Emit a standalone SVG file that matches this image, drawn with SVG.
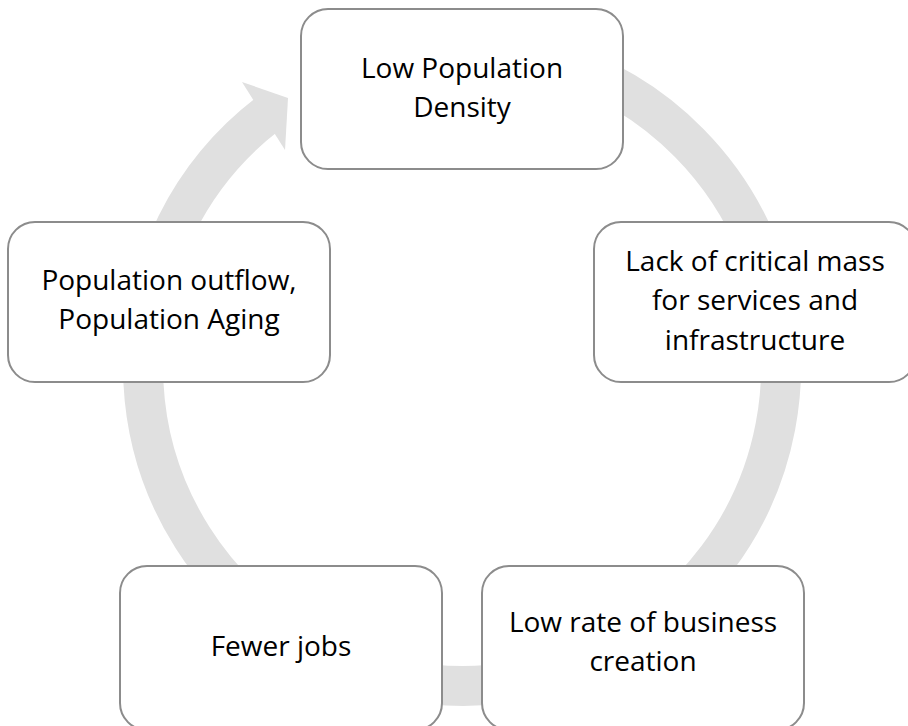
<svg xmlns="http://www.w3.org/2000/svg" width="908" height="726" viewBox="0 0 908 726">
  <style>
    .ring { fill: none; stroke: #e0e0e0; stroke-width: 40; stroke-linecap: butt; }
    .head { fill: #e0e0e0; stroke: none; }
    .box { fill: #ffffff; stroke: #8c8c8c; stroke-width: 2; }
    .label { font-family: "Open Sans", "Noto Sans", "Liberation Sans", sans-serif; font-size: 28px; fill: #000000; text-anchor: middle; }
  </style>
  <rect x="0" y="0" width="908" height="726" fill="#ffffff"/>

  <!-- circular flow arrow, drawn beneath the nodes -->
  <g id="connectors">
    <path class="ring" d="M 406.6 52.8 A 319 319 0 1 1 267.8 113.9"/>
    <polygon class="head" points="242,82 288,98 285,150"/>
  </g>

  <g id="node-density">
    <rect class="box" x="301" y="9" width="322" height="160" rx="27" ry="27"/>
    <text class="label" x="462" y="77.5">Low Population</text>
    <text class="label" x="462" y="116.5">Density</text>
  </g>

  <g id="node-critical-mass">
    <rect class="box" x="594" y="222" width="322" height="160" rx="27" ry="27"/>
    <text class="label" x="755" y="271">Lack of critical mass</text>
    <text class="label" x="755" y="310">for services and</text>
    <text class="label" x="755" y="350">infrastructure</text>
  </g>

  <g id="node-business">
    <rect class="box" x="482" y="566" width="322" height="164" rx="27" ry="27"/>
    <text class="label" x="643" y="632">Low rate of business</text>
    <text class="label" x="643" y="671">creation</text>
  </g>

  <g id="node-jobs">
    <rect class="box" x="120" y="566" width="322" height="164" rx="27" ry="27"/>
    <text class="label" x="281" y="656">Fewer jobs</text>
  </g>

  <g id="node-outflow">
    <rect class="box" x="8" y="222" width="322" height="160" rx="27" ry="27"/>
    <text class="label" x="169" y="290">Population outflow,</text>
    <text class="label" x="169" y="329">Population Aging</text>
  </g>
</svg>
